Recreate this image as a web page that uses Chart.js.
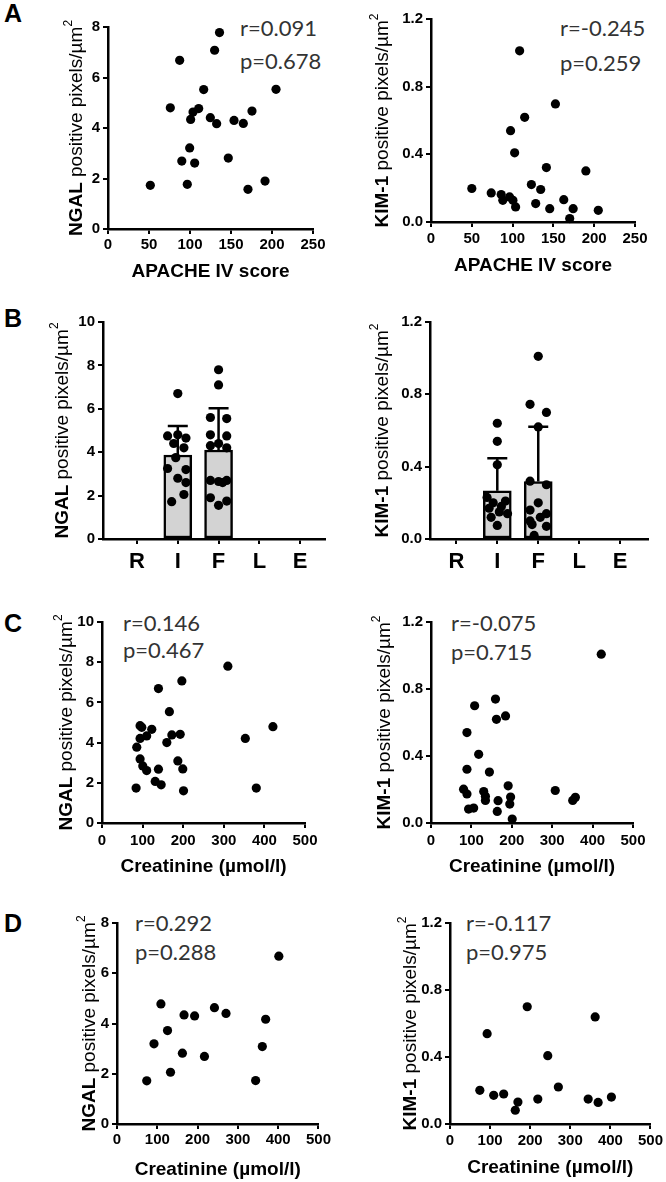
<!DOCTYPE html>
<html>
<head>
<meta charset="utf-8">
<script src="https://cdn.jsdelivr.net/npm/chart.js@4.4.0/dist/chart.umd.min.js"></script>
<style>
body { margin: 0; background: #fff; width: 666px; height: 1182px; position: relative; overflow: hidden; font-family: 'Liberation Sans', Arial, sans-serif; }
canvas { position: absolute; }
.lbl { position: absolute; left: 4px; font-weight: bold; font-size: 25px; line-height: 26px; color: #000; }
.stat { position: absolute; font-family: Lato, 'Liberation Sans', sans-serif; font-size: 22px; line-height: 32px; color: #333; white-space: nowrap; }
</style>
</head>
<body>
<div class="lbl" style="top:0px">A</div>
<div class="lbl" style="top:305px">B</div>
<div class="lbl" style="top:610px">C</div>
<div class="lbl" style="top:910px">D</div>

<div class="stat" style="left:240px;top:12px">r=0.091</div>
<div class="stat" style="left:240px;top:45px">p=0.678</div>
<div class="stat" style="left:560px;top:12px">r=-0.245</div>
<div class="stat" style="left:560px;top:47px">p=0.259</div>
<div class="stat" style="left:123px;top:607px">r=0.146</div>
<div class="stat" style="left:123px;top:634px">p=0.467</div>
<div class="stat" style="left:451px;top:607px">r=-0.075</div>
<div class="stat" style="left:451px;top:636px">p=0.715</div>
<div class="stat" style="left:135px;top:907px">r=0.292</div>
<div class="stat" style="left:135px;top:936px">p=0.288</div>
<div class="stat" style="left:466px;top:907px">r=-0.117</div>
<div class="stat" style="left:466px;top:936px">p=0.975</div>

<script>
// ---- data ----
// A: APACHE IV score vs staining
const apacheNgal = [51.6, 76, 87.4, 90, 96.7, 99.6, 100.8, 103.7, 110.6, 105.7, 116.7, 124.8, 130, 136, 132.5, 146.7, 153.7, 165, 170.7, 175.6, 191.5, 204.9];
const ngalA = [1.73, 4.8, 6.68, 2.69, 1.77, 3.21, 4.34, 4.63, 4.77, 2.61, 5.52, 4.41, 7.08, 7.78, 4.17, 2.81, 4.3, 4.18, 1.57, 4.67, 1.9, 5.53];
const apacheKim = [50, 73.8, 86, 88, 96.3, 100.4, 103.7, 97.5, 102.5, 108.6, 114.8, 123, 128.3, 134.4, 141.4, 145.5, 152.5, 162.7, 170, 174.2, 189.8, 205];
const kimA = [0.198, 0.172, 0.162, 0.128, 0.148, 0.128, 0.089, 0.54, 0.409, 1.012, 0.619, 0.221, 0.109, 0.192, 0.322, 0.079, 0.698, 0.132, 0.02, 0.079, 0.302, 0.069];

// B: RIFLE classes
const rifle = ['R', 'I', 'F', 'L', 'E'];
const groups = ['I', 'F'];
const ngalMean = [3.87, 4.1];
const ngalSd = [1.34, 1.92];
const ngalI = [6.7, 4.75, 4.8, 4.65, 4.4, 4.2, 3.75, 3.25, 3.2, 2.8, 2.6, 2.05, 1.72];
const ngalIJit = [0, -0.25, 0.0, 0.2, -0.1, 0.15, -0.05, -0.25, 0.2, 0, 0.2, 0.15, -0.15];
const ngalF = [7.8, 7.1, 5.6, 5.55, 4.8, 4.75, 4.4, 4.3, 4.2, 2.7, 2.65, 2.7, 2.6, 1.9, 1.75, 1.55];
const ngalFJit = [0, 0, -0.2, 0.2, -0.2, 0.2, 0, -0.2, 0.2, -0.2, 0, 0.2, 0.1, -0.2, 0.2, 0];
const kimMean = [0.267, 0.318];
const kimSd = [0.18, 0.303];
const kimI = [0.64, 0.54, 0.41, 0.23, 0.21, 0.2, 0.18, 0.17, 0.15, 0.14, 0.12, 0.075];
const kimIJit = [0, 0, 0, -0.25, 0.2, -0.1, 0.1, -0.2, 0.05, 0.25, -0.15, 0];
const kimF = [1.01, 0.745, 0.70, 0.62, 0.32, 0.30, 0.20, 0.16, 0.14, 0.12, 0.10, 0.08, 0.07, 0.02];
const kimFJit = [0, -0.2, 0.2, 0, -0.2, 0.2, 0, -0.2, 0.2, 0.05, -0.2, -0.15, 0.2, -0.1];

// C: creatinine vs staining
const creatNgalC = [84, 85.6, 93.8, 98, 93.8, 110, 122.6, 93.8, 100.4, 110, 139, 131, 145.7, 139, 159.7, 166, 172, 196.7, 192.6, 186.8, 199, 200.8, 310, 353, 380, 421];
const ngalC = [1.74, 3.77, 4.84, 4.76, 4.21, 4.33, 4.66, 3.19, 2.84, 2.61, 2.68, 2.07, 1.9, 6.69, 4.0, 5.54, 4.38, 7.07, 4.41, 3.09, 2.69, 1.6, 7.8, 4.21, 1.74, 4.79];
const creatKimC = [80.6, 89, 89, 89, 93, 105.6, 108, 118, 130.5, 134.7, 134.7, 144.6, 159.6, 162, 166, 164, 184.5, 191, 197, 195, 201, 307.6, 350.8, 357.4, 421.4];
const kimC = [0.202, 0.173, 0.54, 0.321, 0.083, 0.089, 0.70, 0.41, 0.188, 0.159, 0.135, 0.304, 0.74, 0.619, 0.133, 0.069, 0.639, 0.222, 0.155, 0.113, 0.024, 0.194, 0.135, 0.153, 1.008];

// D: creatinine vs staining (subgroup)
const creatNgalD = [73.8, 91.8, 109, 125.4, 132.8, 162.3, 166.4, 192.6, 217, 241.8, 270.5, 344, 360.6, 368.9, 401.6];
const ngalD = [1.72, 3.19, 4.78, 3.72, 2.06, 2.82, 4.34, 4.3, 2.69, 4.63, 4.4, 1.73, 3.08, 4.17, 6.68];
const creatKimD = [74.4, 92.6, 109, 133.9, 162.8, 169.4, 192.6, 219, 243.8, 270.2, 344.6, 369.4, 362, 402.5];
const kimD = [0.201, 0.539, 0.171, 0.179, 0.082, 0.131, 0.70, 0.149, 0.408, 0.221, 0.149, 0.129, 0.639, 0.161];

// ---- drawing ----
const fam = "'Liberation Sans', Arial, sans-serif";

function pts(xs, ys) {
    return xs.map((x, i) => ({ x: x, y: ys[i] }));
}

function dots(data) {
    return {
        type: 'scatter',
        data: data,
        backgroundColor: '#000',
        borderColor: '#000',
        borderWidth: 0,
        pointRadius: 4.6,
        pointHoverRadius: 4.6,
        clip: false
    };
}

function yTitle(x, bold) {
    return {
        id: 'yTitle',
        afterDraw(chart) {
            const ctx = chart.ctx, a = chart.chartArea;
            const rest = ' positive pixels/\u00b5m';
            ctx.save();
            ctx.translate(x, (a.top + a.bottom) / 2);
            ctx.rotate(-Math.PI / 2);
            ctx.textBaseline = 'middle';
            ctx.fillStyle = '#000';
            ctx.font = 'bold 19px ' + fam;
            const w1 = ctx.measureText(bold).width;
            ctx.font = '19px ' + fam;
            const w2 = ctx.measureText(rest).width;
            ctx.font = '12px ' + fam;
            const w3 = ctx.measureText('2').width;
            let p = -(w1 + w2 + w3) / 2;
            ctx.font = 'bold 19px ' + fam;
            ctx.fillText(bold, p, 0);
            p += w1;
            ctx.font = '19px ' + fam;
            ctx.fillText(rest, p, 0);
            p += w2;
            ctx.font = '12px ' + fam;
            ctx.fillText('2', p, -8);
            ctx.restore();
        }
    };
}

function errBars(mean, sd) {
    return {
        id: 'errBars',
        afterDatasetDraw(chart, args) {
            if (args.meta.type !== 'bar') return;
            const ctx = chart.ctx, y = chart.scales.y;
            args.meta.data.forEach((bar, i) => {
                const top = y.getPixelForValue(mean[i] + sd[i]);
                ctx.save();
                ctx.strokeStyle = '#000';
                ctx.lineWidth = 2.5;
                ctx.beginPath();
                ctx.moveTo(bar.x, bar.y);
                ctx.lineTo(bar.x, top);
                ctx.moveTo(bar.x - 10, top);
                ctx.lineTo(bar.x + 10, top);
                ctx.stroke();
                ctx.restore();
            });
        }
    };
}

// p: page rect of the plot area and label positions
function panel(p) {
    const cv = document.createElement('canvas');
    cv.width = 333;
    cv.height = p.h;
    cv.style.left = p.cx + 'px';
    cv.style.top = p.cy + 'px';
    document.body.appendChild(cv);

    const bottom = p.B - p.cy;
    const xH = p.xTitle ? (p.titleY - p.cy) + 11.4 - bottom : 40;
    const tick = { size: 15, weight: 'bold', family: fam };

    const xScale = {
        type: 'linear',
        min: p.xMin, max: p.xMax, offset: false,
        ticks: { stepSize: p.xStep, font: p.xFont || tick, color: '#000', padding: p.tickPad, maxRotation: 0, autoSkip: false },
        grid: { drawOnChartArea: false, tickLength: 5, color: '#000', lineWidth: 2, offset: false },
        border: { color: '#000', width: 2.5 },
        afterFit: s => { s.height = xH; }
    };
    if (p.xTitle) {
        xScale.title = { display: true, text: p.xTitle, color: '#000', font: { size: 19, weight: 'bold', family: fam }, padding: 0 };
    }
    if (p.cats) {
        xScale.afterBuildTicks = s => { s.ticks = p.cats.map((c, i) => ({ value: i + 1 })); };
        xScale.ticks.callback = v => p.cats[v - 1];
    }

    const plugins = [yTitle(p.yTitleX - p.cx, p.yBold)];
    if (p.err) plugins.push(errBars(p.err[0], p.err[1]));

    new Chart(cv, {
        type: p.bars ? 'bar' : 'scatter',
        data: { datasets: p.datasets },
        options: {
            animation: false,
            responsive: false,
            events: [],
            layout: { padding: { left: 0, top: p.T - p.cy, right: p.cx + 333 - p.R, bottom: p.h - bottom - xH } },
            plugins: { legend: { display: false }, tooltip: { enabled: false } },
            scales: {
                x: xScale,
                y: {
                    type: 'linear',
                    min: 0, max: p.yMax,
                    ticks: { stepSize: p.yStep, font: tick, color: '#000', padding: 3, callback: v => v.toFixed(p.yDec) },
                    grid: { drawOnChartArea: false, tickLength: 5, color: '#000', lineWidth: 2 },
                    border: { color: '#000', width: 2.5 },
                    afterFit: s => { s.width = p.L - p.cx; }
                }
            }
        },
        plugins: plugins
    });
}

function barSets(mean, iVals, iJit, fVals, fJit) {
    const pos = groups.map(g => rifle.indexOf(g) + 1);
    const iPts = iVals.map((v, k) => ({ x: pos[0] + iJit[k], y: v }));
    const fPts = fVals.map((v, k) => ({ x: pos[1] + fJit[k], y: v }));
    return [
        dots(iPts.concat(fPts)),
        {
            type: 'bar',
            data: groups.map((g, i) => ({ x: pos[i], y: mean[i] })),
            backgroundColor: '#d3d3d3',
            borderColor: '#000',
            borderWidth: 2.5,
            borderSkipped: false,
            barThickness: 28
        }
    ];
}

// row A
panel({ cx: 0, cy: 0, h: 295, L: 108, R: 313, T: 27, B: 229, titleY: 272, yTitleX: 77, tickPad: 2,
    xTitle: 'APACHE IV score', xMin: 0, xMax: 250, xStep: 50, yMax: 8, yStep: 2, yDec: 0, yBold: 'NGAL',
    datasets: [dots(pts(apacheNgal, ngalA))] });
panel({ cx: 333, cy: 0, h: 295, L: 431, R: 635, T: 19, B: 222, titleY: 266, yTitleX: 383, tickPad: 3,
    xTitle: 'APACHE IV score', xMin: 0, xMax: 250, xStep: 50, yMax: 1.2, yStep: 0.4, yDec: 1, yBold: 'KIM-1',
    datasets: [dots(pts(apacheKim, kimA))] });

// row B
panel({ cx: 0, cy: 295, h: 295, L: 103, R: 325, T: 322, B: 539, yTitleX: 63, tickPad: 5, bars: true,
    cats: rifle, xFont: { size: 22, weight: 'bold', family: fam }, xMin: 0.166, xMax: 5.61, xStep: 1,
    yMax: 10, yStep: 2, yDec: 0, yBold: 'NGAL', err: [ngalMean, ngalSd],
    datasets: barSets(ngalMean, ngalI, ngalIJit, ngalF, ngalFJit) });
panel({ cx: 333, cy: 295, h: 295, L: 430, R: 648, T: 322, B: 539, yTitleX: 383, tickPad: 5, bars: true,
    cats: rifle, xFont: { size: 22, weight: 'bold', family: fam }, xMin: 0.357, xMax: 5.68, xStep: 1,
    yMax: 1.2, yStep: 0.4, yDec: 1, yBold: 'KIM-1', err: [kimMean, kimSd],
    datasets: barSets(kimMean, kimI, kimIJit, kimF, kimFJit) });

// row C
panel({ cx: 0, cy: 590, h: 300, L: 102, R: 305, T: 622, B: 823, titleY: 867, yTitleX: 67, tickPad: 4,
    xTitle: 'Creatinine (\u00b5mol/l)', xMin: 0, xMax: 500, xStep: 100, yMax: 10, yStep: 2, yDec: 0, yBold: 'NGAL',
    datasets: [dots(pts(creatNgalC, ngalC))] });
panel({ cx: 333, cy: 590, h: 300, L: 431, R: 633, T: 622, B: 823, titleY: 867, yTitleX: 385, tickPad: 4,
    xTitle: 'Creatinine (\u00b5mol/l)', xMin: 0, xMax: 500, xStep: 100, yMax: 1.2, yStep: 0.4, yDec: 1, yBold: 'KIM-1',
    datasets: [dots(pts(creatKimC, kimC))] });

// row D
panel({ cx: 0, cy: 890, h: 292, L: 117, R: 320, T: 923, B: 1124, titleY: 1170, yTitleX: 90, tickPad: 2,
    xTitle: 'Creatinine (\u00b5mol/l)', xMin: 0, xMax: 500, xStep: 100, yMax: 8, yStep: 2, yDec: 0, yBold: 'NGAL',
    datasets: [dots(pts(creatNgalD, ngalD))] });
panel({ cx: 333, cy: 890, h: 292, L: 450, R: 651, T: 923, B: 1124, titleY: 1168, yTitleX: 411, tickPad: 3,
    xTitle: 'Creatinine (\u00b5mol/l)', xMin: 0, xMax: 500, xStep: 100, yMax: 1.2, yStep: 0.4, yDec: 1, yBold: 'KIM-1',
    datasets: [dots(pts(creatKimD, kimD))] });
</script>
</body>
</html>
